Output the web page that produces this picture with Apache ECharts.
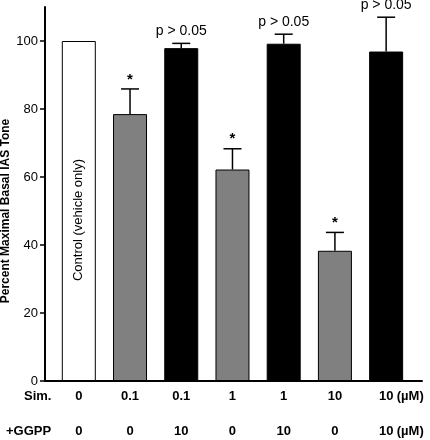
<!DOCTYPE html>
<html>
<head>
<meta charset="utf-8">
<script src="https://cdn.jsdelivr.net/npm/echarts@6/dist/echarts.min.js"></script>
<style>html,body{margin:0;padding:0;background:#fff;}#c{width:430px;height:440px;}</style>
</head>
<body>
<div id="c"></div>
<script>
var simLabels = ['0', '0.1', '0.1', '1', '1', '10', '10'];
var ggppLabels = ['0', '0', '10', '0', '10', '0', '10'];
var unitLabel = '(\u00b5M)';
var rowNames = ['Sim.', '+GGPP'];
var values = [100, 78.5, 97.9, 62.2, 99.2, 38.3, 96.9];
var errTops = [100, 85.9, 99.3, 68.3, 102.0, 43.7, 107.0];
var groups = ['control', 'sim', 'simggpp', 'sim', 'simggpp', 'sim', 'simggpp'];
var annotations = ['', '*', 'p > 0.05', '*', 'p > 0.05', '*', 'p > 0.05'];
var controlText = 'Control (vehicle only)';
var yTicks = [0, 20, 40, 60, 80, 100];
var yTitle = 'Percent Maximal Basal IAS Tone';

var FONT = '"Liberation Sans", Arial, sans-serif';
var colors = {control: '#ffffff', sim: '#808080', simggpp: '#000000'};
var xPos = values.map(function (v, i) { return i; });
var unitPos = 6.47;

var chart = echarts.init(document.getElementById('c'), null, {renderer: 'canvas'});

var barData = values.map(function (v, i) {
  return {
    value: [i, v],
    itemStyle: {color: colors[groups[i]], borderColor: '#000', borderWidth: 1},
    label: i === 0 ? {
      show: true, position: 'inside', rotate: 90, formatter: controlText,
      fontFamily: FONT, fontSize: 13, color: '#000', offset: [-9, 0]
    } : {show: false}
  };
});

var errData = values.map(function (v, i) { return [i, v, errTops[i]]; });

function labelFormatter(row) {
  return function (val) {
    if (Math.abs(val - unitPos) < 0.01) return unitLabel;
    var i = Math.round(val);
    return Math.abs(val - i) < 0.01 && row[i] !== undefined ? row[i] : '';
  };
}
var xCustom = xPos.concat([unitPos]);

chart.setOption({
  animation: false,
  backgroundColor: '#fff',
  grid: {left: 45, right: 8, top: 7, bottom: 59, containLabel: false, outerBoundsMode: 'none'},
  xAxis: [{
    type: 'value', min: -0.66, max: 6.7, position: 'bottom',
    axisLine: {show: true, onZero: false, lineStyle: {color: '#000', width: 2}},
    axisTick: {show: false}, splitLine: {show: false},
    axisLabel: {customValues: xCustom, formatter: labelFormatter(simLabels), margin: 9,
      fontFamily: FONT, fontSize: 13, fontWeight: 'bold', color: '#000', hideOverlap: false}
  }, {
    type: 'value', min: -0.66, max: 6.7, position: 'bottom', offset: 35,
    axisLine: {show: false, onZero: false}, axisTick: {show: false}, splitLine: {show: false},
    axisLabel: {customValues: xCustom, formatter: labelFormatter(ggppLabels), margin: 9,
      fontFamily: FONT, fontSize: 13, fontWeight: 'bold', color: '#000', hideOverlap: false}
  }],
  yAxis: {
    type: 'value', min: 0, max: 110,
    axisLine: {show: true, onZero: false, lineStyle: {color: '#000', width: 2}},
    axisTick: {show: true, length: 5, customValues: yTicks, lineStyle: {color: '#000', width: 1.5}},
    axisLabel: {customValues: yTicks, margin: 7, fontFamily: FONT, fontSize: 13, color: '#000'},
    splitLine: {show: false}
  },
  graphic: [
    {type: 'text', x: 6, y: 211, rotation: Math.PI / 2,
      style: {text: yTitle, font: 'bold 12px ' + FONT, fill: '#000', textAlign: 'center', textVerticalAlign: 'middle'}},
    {type: 'text', left: 24, top: 390, style: {text: rowNames[0], font: 'bold 13px ' + FONT, fill: '#000'}},
    {type: 'text', left: 6, top: 425, style: {text: rowNames[1], font: 'bold 13px ' + FONT, fill: '#000'}}
  ],
  series: [{
    type: 'bar', xAxisIndex: 0, data: barData, barWidth: 34, z: 2
  }, {
    type: 'custom', xAxisIndex: 0, z: 3, clip: false,
    data: errData,
    renderItem: function (params, api) {
      var x = api.value(0), v = api.value(1), e = api.value(2);
      var txt = annotations[params.dataIndex];
      var p0 = api.coord([x, v]);
      var p1 = api.coord([x, e]);
      var children = [];
      if (e > v) {
        children.push({type: 'line', shape: {x1: p0[0], y1: p0[1], x2: p1[0], y2: p1[1]},
          style: {stroke: '#000', lineWidth: 1.5}});
        children.push({type: 'line', shape: {x1: p1[0] - 9, y1: p1[1], x2: p1[0] + 9, y2: p1[1]},
          style: {stroke: '#000', lineWidth: 1.5}});
      }
      if (txt) {
        var isStar = txt === '*';
        children.push({type: 'text', x: p1[0], y: p1[1] - (isStar ? 2 : 5),
          style: {text: txt, textAlign: 'center', textVerticalAlign: 'bottom',
            font: (isStar ? 'bold 15px ' : '14px ') + FONT, fill: '#000'}});
      }
      return {type: 'group', children: children};
    }
  }]
});
</script>
</body>
</html>
